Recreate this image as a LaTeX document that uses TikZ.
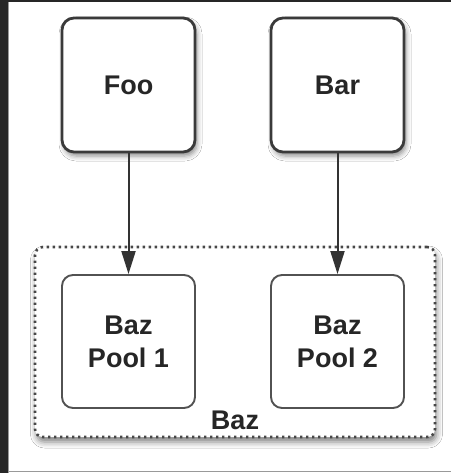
\documentclass[tikz,border=0pt]{standalone}
\usepackage{fontspec}
\setmainfont{Liberation Sans}
\usetikzlibrary{shadows.blur,arrows.meta}
\definecolor{framedark}{HTML}{262626}
\definecolor{edgegray}{HTML}{3A3A3A}
\begin{document}
\begin{tikzpicture}[x=1pt,y=-1pt,
  lbl/.style={font=\bfseries\fontsize{27}{33}\selectfont, text=black!85, align=center},
  topbox/.style={draw=edgegray, line width=2.8pt, rounded corners=12pt, fill=white,
    minimum width=133pt, minimum height=134pt, inner sep=0pt, lbl,
    blur shadow={shadow xshift=2pt, shadow yshift=-4pt, shadow blur radius=5pt, shadow opacity=45}},
  poolbox/.style={draw=black!68, line width=1.9pt, rounded corners=11pt, fill=white,
    minimum width=133pt, minimum height=133pt, inner sep=0pt, lbl},
  groupbox/.style={draw=black!72, line width=2.6pt, dash pattern=on 2.4pt off 3.6pt, rounded corners=8pt,
    fill=white, minimum width=400pt, minimum height=190pt, inner sep=0pt,
    blur shadow={shadow xshift=1.5pt, shadow yshift=-5pt, shadow blur radius=6pt, shadow opacity=50}},
  conn/.style={draw=black!80, line width=2pt, -{Triangle[length=23pt,width=14pt]}}
]
\useasboundingbox (0,0) rectangle (451,473);
\fill[white] (0,0) rectangle (451,473);
\fill[framedark] (0,0) rectangle (9,473);
\fill[framedark] (0,0) rectangle (451,2.5);
\draw[black!40, line width=0.8pt] (8.6,2.5) -- (8.6,473);
\draw[black!40, line width=1pt] (9,471.5) -- (451,471.5);

\node[groupbox] (baz) at (235,342) {};
\node[lbl] (bazlbl) at (235,420.5) {Baz};
\node[poolbox] (pool1) at (128.5,341.5) {Baz\\Pool 1};
\node[poolbox] (pool2) at (337.5,341.5) {Baz\\Pool 2};
\node[topbox] (foo) at (128.5,85) {Foo};
\node[topbox] (bar) at (337.5,85) {Bar};

\draw[conn] (foo.south) -- (pool1.north);
\draw[conn] (bar.south) -- (pool2.north);
\end{tikzpicture}
\end{document}
